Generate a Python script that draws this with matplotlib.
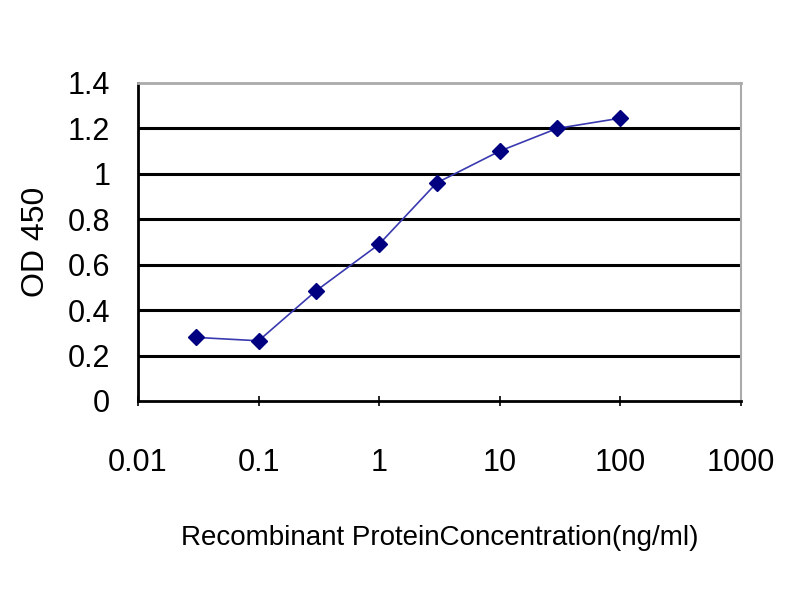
import matplotlib
matplotlib.use('Agg')
import matplotlib.pyplot as plt
from matplotlib.ticker import FixedLocator, NullLocator

plt.rcParams['font.family'] = ['Liberation Sans', 'DejaVu Sans']

conc = [0.03, 0.1, 0.3, 1, 3, 10, 30, 100]
od450 = [0.28, 0.265, 0.485, 0.69, 0.96, 1.10, 1.20, 1.245]

xticks = [0.01, 0.1, 1, 10, 100, 1000]
xticklabels = ['0.01', '0.1', '1', '10', '100', '1000']
yticks = [0, 0.2, 0.4, 0.6, 0.8, 1.0, 1.2, 1.4]
yticklabels = ['0', '0.2', '0.4', '0.6', '0.8', '1', '1.2', '1.4']

fig = plt.figure(figsize=(8, 6), dpi=100)
ax = fig.add_axes([0.1725, 0.3317, 0.7535, 0.53])

ax.set_xscale('log')
ax.set_xlim(0.01, 1000)
ax.set_ylim(0, 1.4)

# black horizontal grid lines
for y in yticks[1:-1]:
    ax.axhline(y, color='black', lw=2.2, zorder=1)

ax.plot(conc, od450, color='#3a3ab0', lw=1.2, marker='D', ms=8,
        mfc='#000080', mec='#000080', zorder=3)

ax.xaxis.set_major_locator(FixedLocator(xticks))
ax.xaxis.set_minor_locator(NullLocator())
ax.set_xticklabels(xticklabels, fontsize=22)
ax.set_yticks(yticks)
ax.set_yticklabels(yticklabels, fontsize=22)
ax.tick_params(axis='x', direction='inout', length=7, width=1.2, pad=30)
ax.tick_params(axis='y', length=0, pad=20)

ax.spines['left'].set_color('black')
ax.spines['bottom'].set_color('black')
ax.spines['left'].set_linewidth(2)
ax.spines['bottom'].set_linewidth(2)
ax.spines['top'].set_color('#aaaaaa')
ax.spines['right'].set_color('#aaaaaa')
ax.spines['top'].set_linewidth(2)
ax.spines['right'].set_linewidth(1.5)

ax.set_xlabel('Recombinant ProteinConcentration(ng/ml)', fontsize=20, labelpad=34)
ax.set_ylabel('OD 450', fontsize=23, labelpad=12)

plt.savefig('out.png', dpi=100)
